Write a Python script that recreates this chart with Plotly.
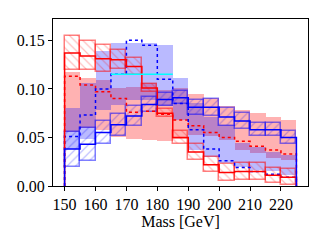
import numpy as np
import plotly.graph_objects as go

# bins: 150..225 GeV, width 5
bin_lo = 150
bin_w = 5
n_bins = 15

red_solid = [0.137, 0.134, 0.131, 0.130, 0.123, 0.101, 0.075, 0.050, 0.035, 0.022, 0.014, 0.015, 0.015, 0.011, 0.009]
red_solid_err = [0.018, 0.015, 0.014, 0.010, 0.009, 0.004, 0.004, 0.007, 0.008, 0.008, 0.009, 0.009, 0.009, 0.008, 0.008]

blue_solid = [0.038, 0.043, 0.055, 0.063, 0.072, 0.084, 0.089, 0.091, 0.081, 0.081, 0.071, 0.067, 0.058, 0.058, 0.050]
blue_solid_err = [0.018, 0.017, 0.012, 0.011, 0.010, 0.008, 0.007, 0.007, 0.008, 0.009, 0.009, 0.008, 0.007, 0.007, 0.007]

red_dotted = [0.113, 0.104, 0.097, 0.090, 0.076, 0.077, 0.074, 0.068, 0.062, 0.055, 0.050, 0.046, 0.041, 0.037, 0.033]
red_band_lo = [0.056, 0.060, 0.058, 0.050, 0.048, 0.047, 0.046, 0.048, 0.053, 0.051, 0.047, 0.037, 0.034, 0.029, 0.027]
red_band_hi = [0.117, 0.111, 0.109, 0.101, 0.102, 0.106, 0.099, 0.101, 0.095, 0.091, 0.082, 0.078, 0.075, 0.071, 0.068]

blue_dotted = [0.051, 0.073, 0.100, 0.115, 0.150, 0.145, 0.110, 0.085, 0.058, 0.038, 0.026, 0.019, 0.015, 0.012, 0.009]
blue_band_lo = [0.038, 0.048, 0.078, 0.083, 0.089, 0.089, 0.082, 0.068, 0.037, 0.030, 0.024, 0.020, 0.0165, 0.015, 0.011]
blue_band_hi = [0.080, 0.106, 0.139, 0.147, 0.147, 0.147, 0.145, 0.111, 0.085, 0.0715, 0.063, 0.044, 0.0405, 0.035, 0.032]

cyan_x = [165, 185]
cyan_y = [0.115, 0.115]

x_ticks = [150, 160, 170, 180, 190, 200, 210, 220]
y_ticks = [0.00, 0.05, 0.10, 0.15]

edges = bin_lo + bin_w * np.arange(n_bins + 1)
centers = edges[:-1] + bin_w / 2


def step_xy(vals):
    xs = [edges[0]] + list(edges[:-1]) + [edges[-1], edges[-1]]
    ys = [0] + list(vals) + [vals[-1], 0]
    return xs, ys


fig = go.Figure()


def band(lo, hi, color):
    lo = np.array(lo)
    hi = np.array(hi)
    fig.add_trace(go.Bar(x=centers, y=hi - lo, base=lo, width=bin_w,
                         marker=dict(color=color, line=dict(width=0)),
                         showlegend=False, hoverinfo="skip"))


def hatch(vals, err, color, shape):
    v = np.array(vals)
    e = np.array(err)
    fig.add_trace(go.Bar(x=centers, y=2 * e, base=v - e, width=bin_w,
                         marker=dict(color="rgba(0,0,0,0)",
                                     line=dict(color=color, width=1.5),
                                     pattern=dict(shape=shape, fgcolor=color,
                                                  bgcolor="rgba(0,0,0,0)",
                                                  size=6, solidity=0.2)),
                         showlegend=False, hoverinfo="skip"))


band(red_band_lo, red_band_hi, "rgba(255,0,0,0.3)")
band(blue_band_lo, blue_band_hi, "rgba(0,0,255,0.27)")
hatch(red_solid, red_solid_err, "rgba(255,0,0,0.5)", "\\")
hatch(blue_solid, blue_solid_err, "rgba(0,0,255,0.5)", "/")

for vals, color, dash in [(red_dotted, "#ff0000", "dot"),
                          (blue_dotted, "#0000ff", "dot"),
                          (red_solid, "#ff0000", "solid"),
                          (blue_solid, "#0000ff", "solid")]:
    xs, ys = step_xy(vals)
    fig.add_trace(go.Scatter(x=xs, y=ys, mode="lines",
                             line=dict(color=color, width=1.5, dash=dash, shape="hv"),
                             showlegend=False, hoverinfo="skip"))

fig.add_trace(go.Scatter(x=cyan_x, y=cyan_y, mode="lines",
                         line=dict(color="#00ffff", width=1.5),
                         showlegend=False, hoverinfo="skip"))

font = dict(family="Liberation Serif, DejaVu Serif, serif", size=16, color="black")

# page body has an 8px default margin, so the figure is offset by 8px
fig.update_layout(
    width=313, height=231,
    margin=dict(l=45, r=13, t=11, b=53, autoexpand=False),
    paper_bgcolor="white", plot_bgcolor="white",
    barmode="overlay", bargap=0,
    font=font,
    showlegend=False,
)
fig.update_xaxes(range=[146.25, 228.75], tickvals=x_ticks, ticks="outside",
                 ticklen=4, tickwidth=1, tickcolor="black",
                 showline=True, linecolor="black", linewidth=1, mirror=True,
                 showgrid=False, zeroline=False, automargin=False,
                 title=dict(text="Mass [GeV]", font=font, standoff=2),
                 tickfont=font)
fig.update_yaxes(range=[0, 0.172], tickvals=y_ticks, tickformat=".2f", ticks="outside",
                 ticklen=4, tickwidth=1, tickcolor="black",
                 showline=True, linecolor="black", linewidth=1, mirror=True,
                 showgrid=False, zeroline=False, automargin=False, tickfont=font)

fig.write_html("out.html")
